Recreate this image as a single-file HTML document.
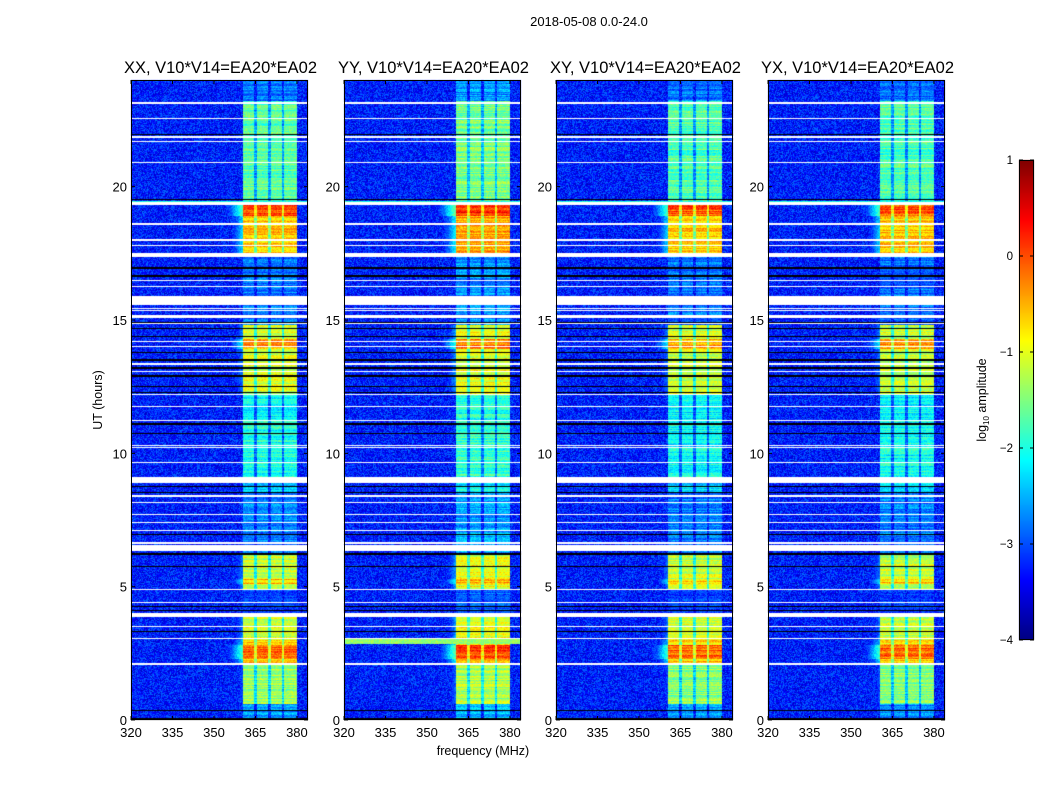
<!DOCTYPE html>
<html><head><meta charset="utf-8">
<style>
html,body{margin:0;padding:0;background:#fff;width:1050px;height:800px;overflow:hidden}
body{position:relative;font-family:"Liberation Sans","DejaVu Sans",sans-serif}
canvas,svg{position:absolute;left:0;top:0}
</style></head>
<body>
<canvas id="cv" width="1050" height="800"></canvas>
<svg id="sv" width="1050" height="800"></svg>
<script>
// ---- data ----
const panelTitles = ["XX, V10*V14=EA20*EA02","YY, V10*V14=EA20*EA02","XY, V10*V14=EA20*EA02","YX, V10*V14=EA20*EA02"];
const panelGain = [0, 0.15, -0.05, -0.05];
const freqTicks = [320,335,350,365,380];
const timeTicks = [0,5,10,15,20];
const cbTicks = [1,0,-1,-2,-3,-4];
const bgLevel = -3.25;
const bandLo = 360.6, bandHi = 380.2;
const subbandEdges = [365,370,375];
// RFI band intensity by time segment (log10 amplitude)
const segStart = [0.0,0.6,2.1,2.3,2.8,3.0,4.0,4.9,5.1,5.3,6.2,8.5,9.1,11.2,12.2,13.9,14.3,14.8,17.5,18.9,19.35,23.2];
const segEnd   = [0.6,2.1,2.3,2.8,3.0,4.0,4.9,5.1,5.3,6.2,8.5,9.1,11.2,12.2,13.9,14.3,14.8,17.5,18.9,19.35,23.2,24.0];
const segLevel = [-2.6,-1.4,-0.6,-0.1,-0.7,-1.1,-3.1,-1.1,-0.6,-1.1,-2.7,-2.3,-2.0,-2.1,-1.1,-0.4,-1.1,-2.8,-0.6,0.0,-1.7,-2.8];
// broadband lines (all channels)
const bbStart = [21.92,19.42];
const bbEnd   = [21.96,19.47];
const bbLevel = [-2.0,-2.0];
// YY-only broadband
const yyBbStart = [2.85], yyBbEnd = [3.05], yyBbLevel = [-1.4];
// flagged (white) rows: centre hour and width in hours
const flagHours = [23.17,23.12,22.56,21.87,21.69,20.92,19.38,18.6,18.0,17.78,17.43,16.47,16.25,15.73,15.44,15.35,15.15,15.1,14.87,14.19,14.02,13.35,13.06,12.21,11.77,11.22,10.28,10.22,10.16,9.65,8.99,8.4,8.14,7.69,7.4,7.12,6.64,6.45,4.9,4.4,3.93,3.49,3.04,2.1];
const flagWidth = [0.04,0.04,0.04,0.08,0.04,0.04,0.12,0.04,0.04,0.04,0.14,0.04,0.04,0.34,0.04,0.04,0.04,0.04,0.04,0.04,0.04,0.04,0.04,0.04,0.04,0.04,0.03,0.03,0.03,0.04,0.22,0.04,0.04,0.04,0.04,0.04,0.05,0.19,0.05,0.04,0.14,0.04,0.04,0.04];
// dark (black) rows
const darkHours = [21.97,19.53,16.95,16.65,14.9,14.69,14.37,13.77,13.5,13.2,12.9,12.52,12.27,11.1,10.76,8.75,8.54,6.97,6.22,5.74,4.25,4.1,3.33,0.37,0.04];
const darkWidth = [0.04,0.04,0.08,0.04,0.04,0.04,0.04,0.04,0.04,0.04,0.04,0.04,0.04,0.08,0.04,0.04,0.04,0.04,0.08,0.04,0.04,0.04,0.04,0.04,0.06];

// ---- layout ----
const panelX = [131,344,556,768], panelW = 177, plotTop = 80, plotBot = 720;
const fMin = 320, fMax = 384, tMin = 0, tMax = 24;
function xOf(p,f){return panelX[p] + (f-fMin)/(fMax-fMin)*panelW;}
function yOf(h){return plotBot - (h-tMin)/(tMax-tMin)*(plotBot-plotTop);}
function jet(v){
  const c=x=>Math.max(0,Math.min(1,x));
  return [c(1.5-Math.abs(4*v-3)),c(1.5-Math.abs(4*v-2)),c(1.5-Math.abs(4*v-1))].map(x=>Math.round(x*255));
}
function hash(a,b,c){let h=(a*374761393+b*668265263+c*2147483647)|0;h=(h^(h>>>13))*1274126177|0;return ((h^(h>>>16))>>>0)/4294967296;}
function segAt(h){for(let i=0;i<segStart.length;i++) if(h>=segStart[i]&&h<segEnd[i]) return segLevel[i]; return bgLevel;}
function inList(h,c,w){for(let i=0;i<c.length;i++) if(Math.abs(h-c[i])<=w[i]/2) return true; return false;}

const cv=document.getElementById('cv'), ctx=cv.getContext('2d');
for(let p=0;p<4;p++){
  const W=panelW, H=plotBot-plotTop;
  const img=ctx.createImageData(W,H);
  for(let r=0;r<H;r++){
    const h=tMax-(r+0.5)/H*(tMax-tMin);
    const white=inList(h,flagHours,flagWidth), dark=inList(h,darkHours,darkWidth);
    let lev=segAt(h)+panelGain[p];
    let bb=null;
    for(let i=0;i<bbStart.length;i++) if(h>=bbStart[i]&&h<bbEnd[i]) bb=bbLevel[i];
    if(p===1) for(let i=0;i<yyBbStart.length;i++) if(h>=yyBbStart[i]&&h<yyBbEnd[i]) bb=yyBbLevel[i];
    const rowN=(hash(r,p,7)-0.5)*0.6;
    for(let c=0;c<W;c++){
      const f=fMin+(c+0.5)/W*(fMax-fMin);
      let v=bgLevel+(hash(r,c,p)-0.5)*0.9;
      if(f>=bandLo&&f<=bandHi){
        let bl=lev+rowN+(hash(c,r,p+11)-0.5)*0.5;
        for(const e of subbandEdges) if(Math.abs(f-e)<0.45) bl-=0.9;
        v=Math.max(v,bl);
      } else if(f<bandLo&&f>bandLo-8&&lev>-1.5){
        v=Math.max(v,lev-1.6-(bandLo-f)*0.3+(hash(c,r,3)-0.5)*0.5);
      }
      if(bb!==null) v=bb+(hash(c,r,5)-0.5)*0.5;
      const k=(r*W+c)*4;
      let col;
      if(white) col=[255,255,255]; else if(dark) col=[0,0,0];
      else col=jet(Math.max(0,Math.min(1,(v+4)/5)));
      img.data[k]=col[0];img.data[k+1]=col[1];img.data[k+2]=col[2];img.data[k+3]=255;
    }
  }
  ctx.putImageData(img,panelX[p],plotTop);
}
// colorbar
const cbX=1019,cbW=15,cbTop=160,cbBot=640;
for(let y=cbTop;y<cbBot;y++){const c=jet(1-(y-cbTop)/(cbBot-cbTop));ctx.fillStyle=`rgb(${c[0]},${c[1]},${c[2]})`;ctx.fillRect(cbX,y,cbW,1);}

// ---- svg overlay ----
const NS="http://www.w3.org/2000/svg", sv=document.getElementById('sv');
function el(tag,attrs,txt){const e=document.createElementNS(NS,tag);for(const k in attrs)e.setAttribute(k,attrs[k]);if(txt!==undefined)e.textContent=txt;sv.appendChild(e);return e;}
let t=el('text',{x:589,y:26,'font-size':13,'text-anchor':'middle',fill:'#000'},'2018-05-08 0.0-24.0');


for(let p=0;p<4;p++){
  const x0=panelX[p];
  let fr=el('rect',{x:x0+0.5,y:plotTop+0.5,width:panelW-1,height:plotBot-plotTop-1,fill:'none',stroke:'#000','stroke-width':1});
  
  
  let pt=el('text',{x:x0+panelW/2+1,y:73,'font-size':16.5,'text-anchor':'middle',fill:'#000'},panelTitles[p]);
  
  
  freqTicks.forEach(f=>{
    const x=xOf(p,f);
    el('line',{x1:x,x2:x,y1:plotBot,y2:plotBot-4,stroke:'#000'});
    el('line',{x1:x,x2:x,y1:plotTop,y2:plotTop+4,stroke:'#000'});
    let l=el('text',{x:x,y:737,'font-size':13,'text-anchor':'middle',fill:'#000'},String(f));
    
    
  });
  timeTicks.forEach(h=>{
    const y=yOf(h);
    el('line',{x1:x0,x2:x0+4,y1:y,y2:y,stroke:'#000'});
    el('line',{x1:x0+panelW,x2:x0+panelW-4,y1:y,y2:y,stroke:'#000'});
    let l=el('text',{x:x0-4,y:y+5,'font-size':13,'text-anchor':'end',fill:'#000'},String(h));
    
    
  });
}
let xl=el('text',{x:483,y:755,'font-size':12.5,'text-anchor':'middle',fill:'#000'},'frequency (MHz)');


let yl=el('text',{x:102,y:400,'font-size':12.5,'text-anchor':'middle',fill:'#000',transform:'rotate(-90 102 400)'},'UT (hours)');


let cbf=el('rect',{x:cbX+0.5,y:cbTop+0.5,width:cbW-1,height:cbBot-cbTop-1,fill:'none',stroke:'#000'});


cbTicks.forEach(v=>{
  const y=cbTop+(1-v)/5*(cbBot-cbTop);
  el('line',{x1:cbX,x2:cbX+4,y1:y,y2:y,stroke:'#000'});
  el('line',{x1:cbX+cbW,x2:cbX+cbW-4,y1:y,y2:y,stroke:'#000'});
  let l=el('text',{x:1013,y:y+4,'font-size':11.5,'text-anchor':'end',fill:'#000'},v<0?'\u2212'+(-v):String(v));
  
  
});
let cl=el('text',{x:986,y:400,'font-size':12.5,'text-anchor':'middle',fill:'#000',transform:'rotate(-90 986 400)'});


cl.innerHTML='log<tspan font-size="8" dy="3">10</tspan><tspan dy="-3"> amplitude</tspan>';
</script>
</body></html>
